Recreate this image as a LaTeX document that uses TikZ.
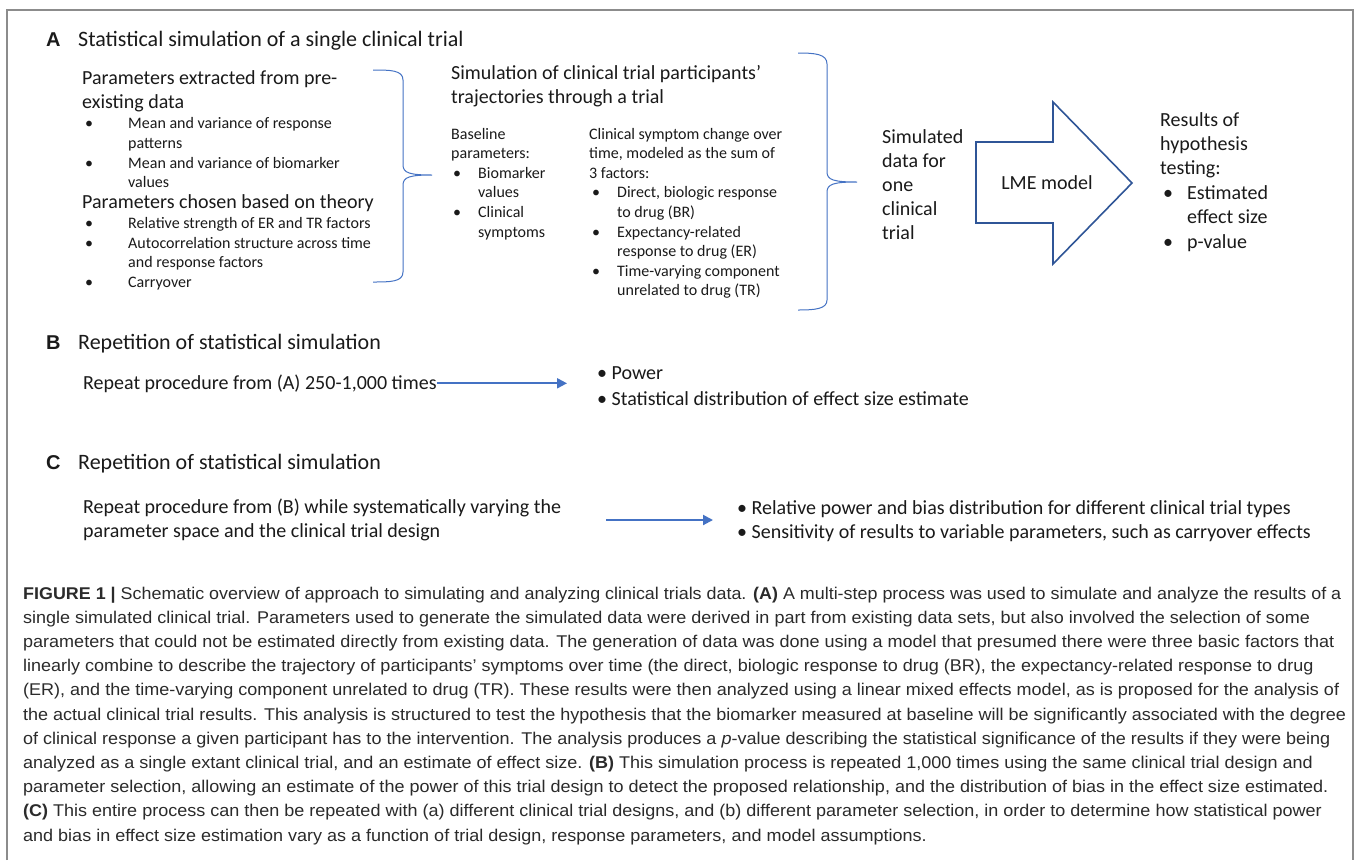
\documentclass[tikz,border=0pt]{standalone}
\usepackage{fontspec}
\setmainfont{Carlito}
\newfontfamily\arialf{Liberation Sans}
\usepackage{graphicx}
\usetikzlibrary{arrows.meta}
\definecolor{braceblue}{HTML}{4472C4}
\definecolor{arrowblue}{HTML}{2F5597}
\definecolor{txtc}{HTML}{1A1A1A}
\definecolor{capc}{HTML}{2B2B2B}
\definecolor{framec}{HTML}{8C8C8C}
\newcommand\fTitle{\fontsize{22}{26}\selectfont}
\newcommand\fBig{\fontsize{20}{24}\selectfont}
\newcommand\fSmall{\fontsize{16}{20}\selectfont}
\newcommand\fLab{\arialf\bfseries\fontsize{20}{24}\selectfont}
\newcommand\fCap{\arialf\fontsize{17}{22}\selectfont}
\newlength\capL
\newcommand\capline[1]{\scalebox{\capsx}[1]{\fCap #1}}
\begin{document}
\settowidth\capL{\fCap the actual clinical trial results. This analysis is structured to test the hypothesis that the biomarker measured at baseline will be significantly associated with the degree}%
\pgfmathsetmacro\capsx{1323/\capL}%
\begin{tikzpicture}[x=1pt,y=-1pt,
  tx/.style={anchor=base west,inner sep=0pt,text=txtc},
  ttl/.style={tx,font=\fTitle},
  lab/.style={tx,font=\fLab},
  bg/.style={tx,font=\fBig},
  sm/.style={tx,font=\fSmall},
  capnode/.style={anchor=base west,inner sep=0pt,text=capc},
  bracec/.style={draw=braceblue,line width=1pt},
  lmearrow/.style={draw=arrowblue,line width=1.6pt,line join=miter},
  flow/.style={draw=braceblue,line width=2pt,-{Triangle[length=10pt,width=10pt]}},
  framel/.style={draw=framec,line width=1.2pt}]
\useasboundingbox (0,0) rectangle (1357,860);
\fill[white] (0,0) rectangle (1357,860);
% frame
\draw[framel] (7,860) -- (7,10) -- (1353,10) -- (1353,860);

% ---------- A ----------
\node[lab] (labA) at (46,46) {A};
\node[ttl] (ttlA) at (78,46) {Statistical simulation of a single clinical trial};

\node[bg] (p1) at (82,84) {Parameters extracted from pre-};
\node[bg] (p2) at (82,108) {existing data};
\node[sm] (pb1) at (85,128) {•};
\node[sm] (pt1) at (128,128) {Mean and variance of response};
\node[sm] (pt1b) at (128,148) {patterns};
\node[sm] (pb2) at (85,168) {•};
\node[sm] (pt2) at (128,168) {Mean and variance of biomarker};
\node[sm] (pt2b) at (128,187) {values};
\node[bg] (p3) at (82,208) {Parameters chosen based on theory};
\node[sm] (pb3) at (85,228) {•};
\node[sm] (pt3) at (128,228) {Relative strength of ER and TR factors};
\node[sm] (pb4) at (85,248) {•};
\node[sm] (pt4) at (128,248) {Autocorrelation structure across time};
\node[sm] (pt4b) at (128,267) {and response factors};
\node[sm] (pb5) at (85,287) {•};
\node[sm] (pt5) at (128,287) {Carryover};

\draw[bracec] (373,70) .. controls (390,70) and (403,70) .. (403,80) -- (403,165)
  .. controls (403,173) and (410,175) .. (432,175)
  .. controls (410,175) and (403,177) .. (403,185) -- (403,272)
  .. controls (403,282) and (390,282) .. (373,282);

\node[bg] (s1) at (451,79) {Simulation of clinical trial participants’};
\node[bg] (s2) at (451,103) {trajectories through a trial};
\node[sm] (bl1) at (451,139) {Baseline};
\node[sm] (bl2) at (451,158) {parameters:};
\node[sm] (blb1) at (453,178) {•};
\node[sm] (blt1) at (478,178) {Biomarker};
\node[sm] (blt1b) at (478,197) {values};
\node[sm] (blb2) at (453,217) {•};
\node[sm] (blt2) at (478,217) {Clinical};
\node[sm] (blt2b) at (478,237) {symptoms};

\node[sm] (c1) at (589,139) {Clinical symptom change over};
\node[sm] (c2) at (589,158) {time, modeled as the sum of};
\node[sm] (c3) at (589,178) {3 factors:};
\node[sm] (cb1) at (592,197) {•};
\node[sm] (ct1) at (617,197) {Direct, biologic response};
\node[sm] (ct1b) at (617,217) {to drug (BR)};
\node[sm] (cb2) at (592,237) {•};
\node[sm] (ct2) at (617,237) {Expectancy-related};
\node[sm] (ct2b) at (617,256) {response to drug (ER)};
\node[sm] (cb3) at (592,276) {•};
\node[sm] (ct3) at (617,276) {Time-varying component};
\node[sm] (ct3b) at (617,295) {unrelated to drug (TR)};

\draw[bracec] (798,53) .. controls (815,53) and (827,54) .. (827,64) -- (827,172)
  .. controls (827,180) and (834,182) .. (857,182)
  .. controls (834,182) and (827,184) .. (827,192) -- (827,300)
  .. controls (827,309) and (815,310) .. (798,310);

\node[bg] (sd1) at (882,143) {Simulated};
\node[bg] (sd2) at (882,167) {data for};
\node[bg] (sd3) at (882,191) {one};
\node[bg] (sd4) at (882,215) {clinical};
\node[bg] (sd5) at (882,239) {trial};

\draw[lmearrow] (976,142) -- (1053,142) -- (1053,102) -- (1132,183) -- (1053,264)
  -- (1053,223) -- (976,223) -- cycle;
\node[font=\fBig,text=txtc,inner sep=0pt] (lme) at (1047,183) {LME model};

\node[bg] (r1) at (1160,126) {Results of};
\node[bg] (r2) at (1160,150) {hypothesis};
\node[bg] (r3) at (1160,174) {testing:};
\node[bg] (rb1) at (1163,199) {•};
\node[bg] (rt1) at (1187,199) {Estimated};
\node[bg] (rt1b) at (1187,223) {effect size};
\node[bg] (rb2) at (1163,248) {•};
\node[bg] (rt2) at (1187,248) {p-value};

% ---------- B ----------
\node[lab] (labB) at (46,349) {B};
\node[ttl] (ttlB) at (78,349) {Repetition of statistical simulation};
\node[bg] (repB) at (83,389) {Repeat procedure from (A) 250-1,000 times};
\coordinate (arB) at (567,381);
\draw[flow] (repB.east) -- (repB.east -| arB);
\node[bg] (bw1) at (597,379) {• Power};
\node[bg] (bw2) at (597,405) {• Statistical distribution of effect size estimate};

% ---------- C ----------
\node[lab] (labC) at (46,469) {C};
\node[ttl] (ttlC) at (78,469) {Repetition of statistical simulation};
\node[bg] (repC1) at (83,513) {Repeat procedure from (B) while systematically varying the};
\node[bg] (repC2) at (83,537) {parameter space and the clinical trial design};
\coordinate (arC1) at (606,520);
\coordinate (arC2) at (713,520);
\draw[flow] (arC1) -- (arC2);
\node[bg] (cw1) at (737,514) {• Relative power and bias distribution for different clinical trial types};
\node[bg] (cw2) at (737,538) {• Sensitivity of results to variable parameters, such as carryover effects};

% ---------- caption ----------
\node[capnode] (cap1) at (23,599) {\resizebox{1318pt}{\height}{\fCap\textbf{FIGURE 1 |} Schematic overview of approach to simulating and analyzing clinical trials data. \textbf{(A)} A multi-step process was used to simulate and analyze the results of a}};
\node[capnode] (cap2) at (23,623.2) {\capline{single simulated clinical trial. Parameters used to generate the simulated data were derived in part from existing data sets, but also involved the selection of some}};
\node[capnode] (cap3) at (23,647.4) {\capline{parameters that could not be estimated directly from existing data. The generation of data was done using a model that presumed there were three basic factors that}};
\node[capnode] (cap4) at (23,671.6) {\capline{linearly combine to describe the trajectory of participants’ symptoms over time (the direct, biologic response to drug (BR), the expectancy-related response to drug}};
\node[capnode] (cap5) at (23,695.8) {\capline{(ER), and the time-varying component unrelated to drug (TR). These results were then analyzed using a linear mixed effects model, as is proposed for the analysis of}};
\node[capnode] (cap6) at (23,720) {\capline{the actual clinical trial results. This analysis is structured to test the hypothesis that the biomarker measured at baseline will be significantly associated with the degree}};
\node[capnode] (cap7) at (23,744.2) {\capline{of clinical response a given participant has to the intervention. The analysis produces a \textit{p}-value describing the statistical significance of the results if they were being}};
\node[capnode] (cap8) at (23,768.4) {\capline{analyzed as a single extant clinical trial, and an estimate of effect size. \textbf{(B)} This simulation process is repeated 1,000 times using the same clinical trial design and}};
\node[capnode] (cap9) at (23,792.6) {\capline{parameter selection, allowing an estimate of the power of this trial design to detect the proposed relationship, and the distribution of bias in the effect size estimated.}};
\node[capnode] (cap10) at (23,816.8) {\capline{\textbf{(C)} This entire process can then be repeated with (a) different clinical trial designs, and (b) different parameter selection, in order to determine how statistical power}};
\node[capnode] (cap11) at (23,841) {\capline{and bias in effect size estimation vary as a function of trial design, response parameters, and model assumptions.}};
\end{tikzpicture}
\end{document}
